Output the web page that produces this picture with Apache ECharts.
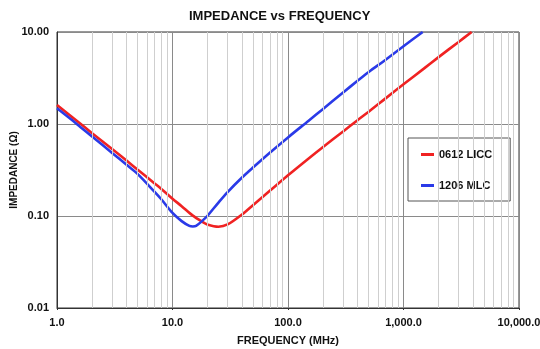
<!DOCTYPE html>
<html>
<head>
<meta charset="utf-8">
<script src="https://cdn.jsdelivr.net/npm/echarts@6/dist/echarts.min.js"></script>
<style>
html,body{margin:0;padding:0;background:#fff;}
#c{width:540px;height:349px;}
</style>
</head>
<body>
<div id="c"></div>
<script>
// ---- data ----
const licc_freq = [1, 1.5, 2, 3, 4, 5, 7, 8, 10, 12, 15, 18, 20, 25, 30, 40, 50, 70, 100, 150, 200, 300, 400, 500, 700, 1000, 1500, 2000, 3000, 3890];
const licc_z    = [1.61, 1.07, 0.80, 0.535, 0.40, 0.318, 0.226, 0.197, 0.154, 0.128, 0.101, 0.087, 0.081, 0.0765, 0.081, 0.104, 0.132, 0.189, 0.277, 0.42, 0.56, 0.83, 1.10, 1.36, 1.90, 2.70, 4.0, 5.3, 7.8, 10.0];
const mlc_freq  = [1, 1.5, 2, 3, 4, 5, 7, 8, 10, 12, 14, 15, 16, 18, 20, 25, 30, 40, 50, 70, 100, 150, 200, 300, 400, 500, 700, 1000, 1466];
const mlc_z     = [1.48, 0.99, 0.735, 0.485, 0.36, 0.285, 0.183, 0.152, 0.108, 0.088, 0.078, 0.0768, 0.078, 0.088, 0.100, 0.140, 0.182, 0.262, 0.338, 0.49, 0.715, 1.08, 1.45, 2.2, 2.95, 3.68, 5.0, 7.0, 10.0];
const seriesNames = ['0612 LICC', '1206 MLC'];
const xTickLabels = ['1.0', '10.0', '100.0', '1,000.0', '10,000.0'];
const yTickLabels = ['0.01', '0.10', '1.00', '10.00'];
// --------------------------------------

const pair = (xs, ys) => xs.map((x, i) => [x, ys[i]]);
const minorX = [];
[1, 10, 100, 1000].forEach(d => { for (let k = 2; k <= 9; k++) minorX.push(d * k); });

const font = 'Liberation Sans, Arial, sans-serif';
const chart = echarts.init(document.getElementById('c'), null, {renderer: 'canvas'});
chart.setOption({
  animation: false,
  backgroundColor: '#fff',
  title: {
    text: 'IMPEDANCE vs FREQUENCY',
    left: 184, top: 5,
    textStyle: {fontFamily: font, fontSize: 13, fontWeight: 'bold', color: '#111'}
  },
  grid: {left: 57, right: 21, top: 32, bottom: 41, containLabel: false, outerBoundsMode: 'none',
         show: true, borderColor: '#333', borderWidth: 1},
  legend: {
    data: [{name: seriesNames[0]}, {name: seriesNames[1]}],
    orient: 'vertical',
    left: 408, top: 138,
    padding: [11, 18, 10, 13],
    itemGap: 20,
    itemWidth: 13, itemHeight: 3,
    icon: 'rect',
    borderColor: '#555', borderWidth: 1,
    textStyle: {fontFamily: font, fontSize: 11, fontWeight: 'bold', color: '#111'}
  },
  xAxis: {
    type: 'log', logBase: 10, min: 1, max: 10000,
    name: 'FREQUENCY (MHz)', nameLocation: 'middle', nameGap: 27,
    nameTextStyle: {fontFamily: font, fontSize: 11, fontWeight: 'bold', color: '#111'},
    axisLine: {show: true, lineStyle: {color: '#333'}},
    axisTick: {show: true, length: 2, lineStyle: {color: '#333'}},
    axisLabel: {
      fontFamily: font, fontSize: 11, fontWeight: 'bold', color: '#111', margin: 9,
      formatter: v => xTickLabels[Math.round(Math.log10(v))]
    },
    splitLine: {show: true, lineStyle: {color: '#8a8a8a', width: 1}}
  },
  yAxis: {
    type: 'log', logBase: 10, min: 0.01, max: 10,
    name: 'IMPEDANCE (\u03A9)', nameLocation: 'middle', nameGap: 38, nameMoveOverlap: false,
    nameTextStyle: {fontFamily: font, fontSize: 10, fontWeight: 'bold', color: '#111'},
    axisLine: {show: true, lineStyle: {color: '#333'}},
    axisTick: {show: false},
    axisLabel: {
      fontFamily: font, fontSize: 11, fontWeight: 'bold', color: '#111', margin: 8,
      formatter: v => yTickLabels[Math.round(Math.log10(v)) + 2]
    },
    splitLine: {show: true, lineStyle: {color: '#8a8a8a', width: 1}}
  },
  series: [
    {
      type: 'line', name: '_grid', data: [], z: 1, silent: true,
      markLine: {
        silent: true, symbol: 'none', label: {show: false},
        lineStyle: {color: '#cfcfcf', width: 1, type: 'solid'},
        data: minorX.map(v => ({xAxis: v}))
      }
    },
    {
      type: 'line', name: seriesNames[0], data: pair(licc_freq, licc_z),
      showSymbol: false, smooth: 0.3, z: 3,
      lineStyle: {color: '#f02222', width: 2.6}, itemStyle: {color: '#f02222'}
    },
    {
      type: 'line', name: seriesNames[1], data: pair(mlc_freq, mlc_z),
      showSymbol: false, smooth: 0.3, z: 4,
      lineStyle: {color: '#2a3ae8', width: 2.6}, itemStyle: {color: '#2a3ae8'}
    }
  ]
});
</script>
</body>
</html>
